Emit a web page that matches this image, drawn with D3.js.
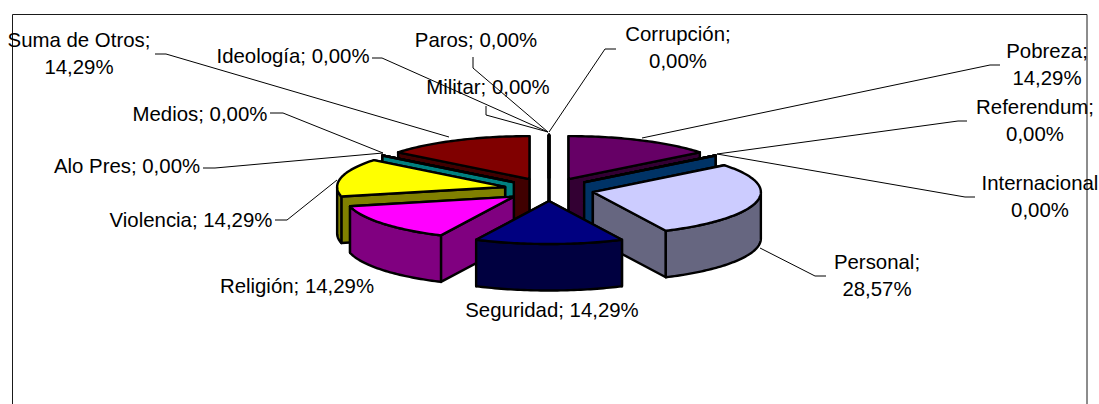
<!DOCTYPE html>
<html><head><meta charset="utf-8">
<script src="https://cdn.jsdelivr.net/npm/d3@7/dist/d3.min.js"></script>
<style>html,body{margin:0;padding:0;background:#fff;overflow:hidden}svg{display:block}
text{font-family:"Liberation Sans",Arial,sans-serif;font-size:20.4px;fill:#000;text-anchor:middle}</style>
</head><body><svg id="c" width="1099" height="404"></svg>
<script>
const categories=["Pobreza","Referendum","Internacional","Personal","Seguridad","Religión","Violencia","Alo Pres","Medios","Suma de Otros","Ideología","Militar","Paros","Corrupción"];
const values=[14.29,0,0,28.57,14.29,14.29,14.29,0,0,14.29,0,0,0,0];
const topColors=["#660066","#0066cc","#0066cc","#ccccff","#000080","#ff00ff","#ffff00","#00cccc","#00cccc","#800000","#000000","#000000","#000000","#000000"];
const sideColors=["#330033","#003366","#003366","#666680","#000040","#800080","#808000","#008080","#008080","#400000","#000000","#000000","#000000","#000000"];
const labelLines=[["Pobreza;","14,29%"],["Referendum;","0,00%"],["Internacional","0,00%"],["Personal;","28,57%"],["Seguridad; 14,29%"],["Religión; 14,29%"],["Violencia; 14,29%"],["Alo Pres; 0,00%"],["Medios; 0,00%"],["Suma de Otros;","14,29%"],["Ideología; 0,00%"],["Militar; 0,00%"],["Paros; 0,00%"],["Corrupción;","0,00%"]];

// layout of labels and leader lines
const labelPos=[[1047,58],[1035,114],[1040,190],[877,269],[552,317],[297,293],[191,227],[127,173],[200,121],[79,47],[293,63],[488,94],[476,47],[678,41]];
const leaders=[
 [[1000,65],[990,65],[642,138]],
 [[967,121],[958,121],[717,154]],
 [[975,197],[965,197],[717,154]],
 [[826,276],[815,276],[760,248]],
 null,null,
 [[275,220],[287,220],[337,180]],
 [[203,168],[215,168],[383,153]],
 [[270,113],[283,113],[383,153]],
 [[155,54],[166,54],[449,137]],
 [[372,58],[382,58],[548,132]],
 [[486,106],[486,115],[548,132]],
 [[473,57],[473,68],[548,132]],
 [[616,49],[605,49],[549,132]]
];
const cx=549,cy=189.5,rx=168,ry=43,depth=46.5,explode=45,ellipseK=ry/rx;

const svg=d3.select("#c");
const pie=d3.pie().sort(null).value(d=>d).startAngle(0).endAngle(2*Math.PI);
const arcs=pie(values);
const data=arcs.map((a,i)=>{
  const mid=(a.startAngle+a.endAngle)/2;
  const ox=cx+explode*Math.sin(mid), oy=cy-explode*ellipseK*Math.cos(mid);
  return {i,a0:a.startAngle,a1:a.endAngle,mid,ox,oy};
});
// zero-size slices collapse to a single edge at their angle
const P=(d,t,dz=0)=>[d.ox+rx*Math.sin(t),d.oy-ry*Math.cos(t)+dz];
const line=d3.line();
const arcPts=(d,t0,t1,dz=0)=>{const n=Math.max(1,Math.ceil(Math.abs(t1-t0)/0.02));return d3.range(n+1).map(k=>P(d,t0+(t1-t0)*k/n,dz));};

const g=svg.append("g").attr("stroke","#000").attr("stroke-width",2.4).attr("stroke-linejoin","round");
const order=data.slice().sort((p,q)=>(Math.cos(q.mid)-Math.cos(p.mid))||(p.i-q.i));
order.forEach(d=>{
  const c=[d.ox,d.oy];
  const faces=[d.a0,d.a1].sort((u,v)=>P(d,u)[1]-P(d,v)[1]);
  faces.forEach(t=>{
    const e=P(d,t);
    g.append("path").attr("fill",sideColors[d.i])
     .attr("d",line([c,e,[e[0],e[1]+depth],[c[0],c[1]+depth]])+"Z");
  });
  const t0=Math.max(d.a0,Math.PI/2),t1=Math.min(d.a1,3*Math.PI/2);
  if(t1>t0){
    const pts=arcPts(d,t0,t1).concat(arcPts(d,t1,t0,depth));
    g.append("path").attr("fill",sideColors[d.i]).attr("d",line(pts)+"Z");
  }
  g.append("path").attr("fill",topColors[d.i])
   .attr("d",line([c].concat(arcPts(d,d.a0,d.a1)))+"Z");
});

svg.append("path").attr("fill","none").attr("stroke","#1a1a1a").attr("stroke-width",1)
   .attr("d",line([[12.5,404],[12.5,14.5],[1087,14.5],[1087,404]]));

const lg=svg.append("g").attr("fill","none").attr("stroke","#000").attr("stroke-width",1);
leaders.forEach(l=>{if(l)lg.append("path").attr("d",line(l));});

const tg=svg.append("g");
categories.forEach((c,i)=>{
  const [x,y]=labelPos[i];
  labelLines[i].forEach((s,k)=>tg.append("text").attr("x",x).attr("y",y+k*27).text(s));
});
</script></body></html>
